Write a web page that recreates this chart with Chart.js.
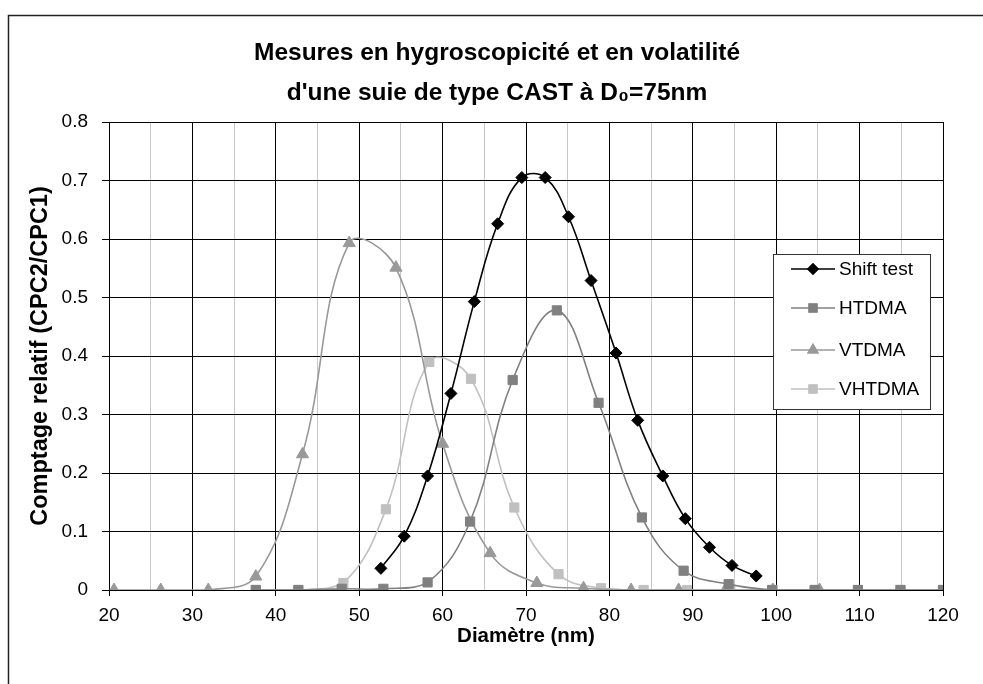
<!DOCTYPE html>
<html>
<head>
<meta charset="utf-8">
<script src="https://cdn.jsdelivr.net/npm/chart.js@4"></script>
<style>
  body { margin: 0; background: #fff; }
  #wrap { width: 983px; height: 684px; position: relative; }
</style>
</head>
<body>
<div id="wrap"><canvas id="chart"></canvas></div>
<script>
// data
const shiftX = [52.6, 55.4, 58.2, 61.0, 63.8, 66.6, 69.5, 72.3, 75.1, 77.8, 80.8, 83.4, 86.4, 89.1, 92.0, 94.7, 97.6];
const shiftY = [0.037, 0.092, 0.195, 0.336, 0.493, 0.626, 0.705, 0.705, 0.638, 0.529, 0.405, 0.29, 0.195, 0.122, 0.073, 0.042, 0.024];

const htdmaX = [37.6, 42.7, 47.9, 52.9, 58.2, 63.3, 68.4, 73.7, 78.7, 83.9, 88.9, 94.3, 99.5, 104.6, 109.8, 114.9, 120];
const htdmaY = [0, 0, 0.002, 0.002, 0.013, 0.117, 0.359, 0.478, 0.32, 0.124, 0.033, 0.01, 0, 0, 0, 0, 0];

const vtdmaX = [20.6, 26.2, 31.9, 37.6, 43.2, 48.8, 54.4, 60.0, 65.7, 71.3, 76.9, 82.6, 88.3, 93.9, 99.6, 105.2];
const vtdmaY = [0, 0, 0, 0.023, 0.232, 0.593, 0.551, 0.25, 0.063, 0.012, 0.003, 0, 0, 0, 0, 0];

const vhtdmaX = [37.6, 42.7, 48.1, 53.2, 58.4, 63.4, 68.6, 73.9, 79.0, 84.1, 89.3, 94.5, 99.6, 104.7, 109.8, 114.9, 120];
const vhtdmaY = [0, 0, 0.012, 0.138, 0.39, 0.361, 0.141, 0.027, 0.003, 0, 0, 0, 0, 0, 0, 0, 0];

const titleLines = ["Mesures en hygroscopicité et en volatilité", "d'une suie de type CAST à D\u2080=75nm"];

function pts(xs, ys) {
  return xs.map((x, i) => ({ x: x, y: ys[i] }));
}

const FONT = "'Liberation Sans', Arial, sans-serif";

function series(label, xs, ys, color, style, radius) {
  return {
    label: label,
    data: pts(xs, ys),
    showLine: true,
    borderColor: color,
    backgroundColor: color,
    borderWidth: 1.6,
    pointStyle: style,
    pointRadius: radius,
    pointBorderWidth: 1,
    tension: 0.4
  };
}

// title, frame and legend box drawn straight on the canvas
const decor = {
  id: 'decor',
  afterDraw(chart) {
    const c = chart.ctx;
    c.save();
    c.strokeStyle = '#222';
    c.lineWidth = 1.5;
    c.strokeRect(8.5, 15.5, 1000, 700);

    c.fillStyle = '#000';
    c.font = 'bold 24.5px ' + FONT;
    c.textAlign = 'center';
    c.textBaseline = 'middle';
    c.fillText(titleLines[0], 497, 53);
    c.fillText(titleLines[1], 497, 93);

    // legend
    const bx = 773, by = 254, bw = 157, bh = 155;
    c.fillStyle = '#fff';
    c.fillRect(bx, by, bw, bh);
    c.strokeStyle = '#333';
    c.lineWidth = 1;
    c.strokeRect(bx + 0.5, by + 0.5, bw, bh);
    const rows = [269, 308, 350, 389];
    c.font = '19px ' + FONT;
    c.textAlign = 'left';
    chart.data.datasets.forEach((ds, i) => {
      const y = rows[i];
      c.strokeStyle = ds.borderColor;
      c.lineWidth = 1.6;
      c.beginPath();
      c.moveTo(791, y);
      c.lineTo(835, y);
      c.stroke();
      c.fillStyle = ds.backgroundColor;
      Chart.helpers.drawPoint(c, { pointStyle: ds.pointStyle, radius: ds.pointRadius, borderWidth: 0 }, 813, y);
      c.fill();
      c.fillStyle = '#000';
      c.fillText(ds.label, 839, y + 1);
    });
    c.restore();
  }
};

new Chart(document.getElementById('chart'), {
  type: 'scatter',
  data: {
    datasets: [
      series('Shift test', shiftX, shiftY, '#000000', 'rectRot', 6),
      series('HTDMA', htdmaX, htdmaY, '#808080', 'rect', 6.5),
      series('VTDMA', vtdmaX, vtdmaY, '#999999', 'triangle', 7),
      series('VHTDMA', vhtdmaX, vhtdmaY, '#c0c0c0', 'rect', 6.5)
    ]
  },
  options: {
    responsive: true,
    maintainAspectRatio: false,
    animation: false,
    layout: { padding: { left: 20, top: 122, right: 40, bottom: 0 } },
    plugins: {
      legend: { display: false },
      title: { display: false },
      tooltip: { enabled: false }
    },
    scales: {
      x: {
        type: 'linear',
        min: 20,
        max: 120,
        afterFit(scale) { scale.height = 94; },
        ticks: {
          stepSize: 5,
          autoSkip: false,
          maxRotation: 0,
          color: '#000',
          font: { family: FONT, size: 19 },
          padding: 8,
          callback: v => (v % 10 === 0 ? v : '')
        },
        grid: {
          color: c => (c.tick && c.tick.value % 10 === 0 ? '#000' : '#c8c8c8'),
          tickColor: c => (c.tick && c.tick.value % 10 === 0 ? '#000' : 'rgba(0,0,0,0)'),
          tickLength: 6
        },
        border: { color: '#000' },
        title: {
          display: true,
          text: 'Diamètre (nm)',
          color: '#000',
          font: { family: FONT, size: 20.5, weight: 'bold' },
          padding: { top: 4, bottom: 35 }
        }
      },
      y: {
        min: 0,
        max: 0.8,
        afterFit(scale) { scale.width = 89; },
        ticks: {
          stepSize: 0.1,
          color: '#000',
          font: { family: FONT, size: 19 },
          padding: 14,
          callback: v => +v.toFixed(1)
        },
        grid: { color: '#000', tickColor: '#000', tickLength: 7 },
        border: { color: '#000' },
        title: {
          display: true,
          text: 'Comptage relatif (CPC2/CPC1)',
          color: '#000',
          font: { family: FONT, size: 23.5, weight: 'bold' },
          padding: { top: 6, bottom: 4 }
        }
      }
    }
  },
  plugins: [decor]
});
</script>
</body>
</html>
